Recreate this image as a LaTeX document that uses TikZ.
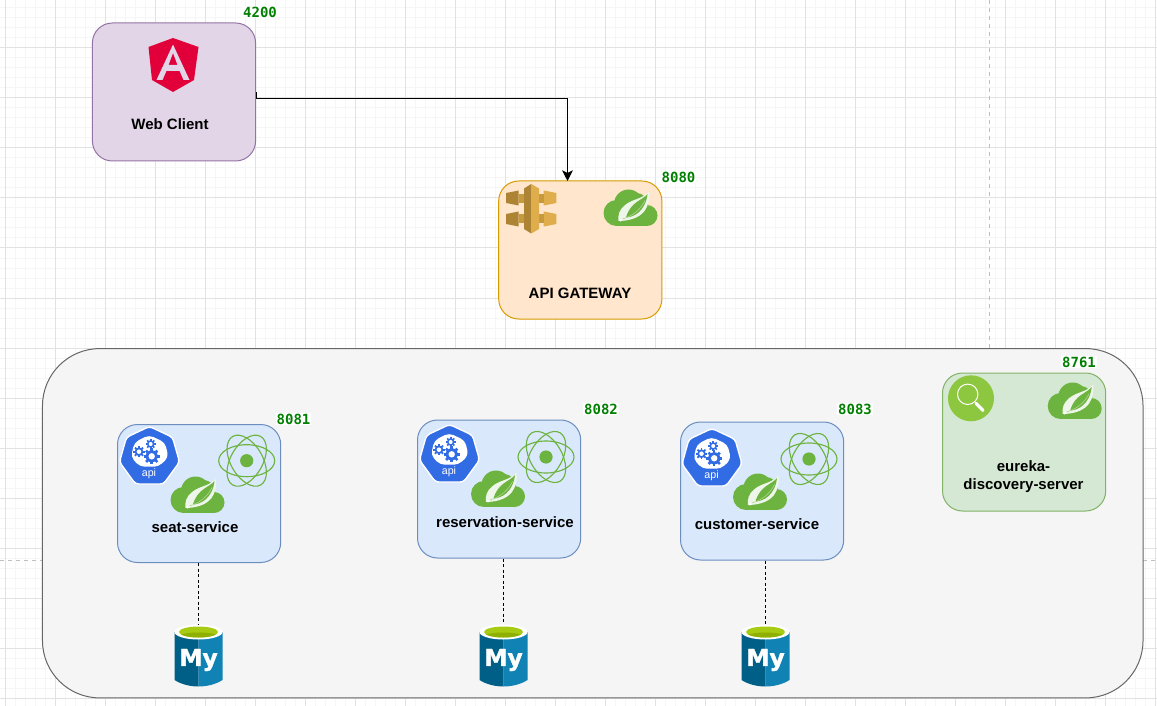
\documentclass[tikz,border=0pt]{standalone}
\usepackage{fontspec}
\usetikzlibrary{arrows.meta}
\setmainfont{Liberation Sans}
\newfontfamily\portfamily{DejaVu Sans Mono}
\newfontfamily\myfamily[BoldFeatures={FakeBold=1.5}]{DejaVu Sans}
\definecolor{gridmajor}{HTML}{E2E2E2}
\definecolor{gridminor}{HTML}{F6F6F6}
\definecolor{springgreen}{HTML}{6DB33F}
\definecolor{k8sblue}{HTML}{326CE5}
\definecolor{portgreen}{HTML}{007F00}
\definecolor{dbdark}{HTML}{005F87}
\definecolor{dblight}{HTML}{1082B4}
\definecolor{dbtop}{HTML}{A6CB12}
\definecolor{dbtopdark}{HTML}{8FB000}
\definecolor{webfill}{HTML}{E1D5E7}
\definecolor{webline}{HTML}{9673A6}
\definecolor{gwfill}{HTML}{FFE6CC}
\definecolor{gwline}{HTML}{D79B00}
\definecolor{svcfill}{HTML}{DAE8FC}
\definecolor{svcline}{HTML}{6C8EBF}
\definecolor{eurfill}{HTML}{D5E8D4}
\definecolor{eurline}{HTML}{82B366}
\definecolor{zonefill}{HTML}{F5F5F5}
\definecolor{zoneline}{HTML}{666666}
\definecolor{angularred}{HTML}{E2003A}
\definecolor{awslight}{HTML}{DFAD4B}
\definecolor{awsmid}{HTML}{C6993C}
\definecolor{awsdark}{HTML}{AC8433}
\definecolor{searchgreen}{HTML}{8DC63F}
\newcommand\cogat[3]{%
  \begin{scope}[shift={(#1,#2)}]
    \fill[k8sblue] (0,0) circle[radius={.76*#3}];
    \foreach \r in {0,45,...,315}
      \draw[k8sblue,line width={#3*.24pt},rotate=\r] (0,0) -- (#3,0);
    \fill[white] (0,0) circle[radius={.4*#3}];
  \end{scope}}
\tikzset{
  gridminorline/.style={draw=gridminor,line width=.75pt},
  gridmajorline/.style={draw=gridmajor,line width=.75pt},
  pageline/.style={draw=lightgray,line width=.75pt,dash pattern=on 3pt off 3pt},
  svcbox/.style={rounded corners=15pt,draw,line width=.75pt,minimum width=122.4pt,minimum height=103.5pt,inner sep=0pt},
  textlabel/.style={font=\fontsize{11.25}{13}\selectfont\bfseries,text=black,align=center,inner sep=0pt},
  port/.style={font=\portfamily\fontsize{10.5}{12}\selectfont\bfseries,text=portgreen,fill=white,inner sep=.5pt},
  dbspot/.style={minimum width=36pt,minimum height=46.5pt,inner sep=0pt},
  dbline/.style={draw=black,line width=.75pt,dash pattern=on 2.25pt off 1.9pt},
  springicon/.pic={
    \fill[springgreen] (-14,5.5) circle[radius=13];
    \fill[springgreen] (-2,-3.5) circle[radius=14.5];
    \fill[springgreen] (6,-3) circle[radius=11.5];
    \fill[springgreen] (16.5,8) circle[radius=10.5];
    \fill[springgreen] (-14,5) rectangle (16.5,18.5);
    \fill[white!88!springgreen] (18.5,-16) .. controls (12,-8) and (2,-9) .. (-6,-2)
       .. controls (-11,2) and (-13,8) .. (-12,13.5)
       .. controls (-4,13.5) and (8,11.5) .. (14,3.5)
       .. controls (18,-2) and (19.5,-9) .. cycle;
    \fill[springgreen] (17,-13.5) .. controls (12,-7) and (0,-6) .. (-4.5,10)
       .. controls (3,9.8) and (15,4) .. cycle;
    \draw[white!45!springgreen,line width=.45pt] (-8,11.5) .. controls (3,8) and (10,2) .. (14.5,-7);
    \fill[white] (-10,12.8) circle[radius=1.4];
  },
  atomicon/.pic={
    \fill[springgreen] (0,0) circle[radius=6.6];
    \foreach \r in {0,60,120}
      \draw[springgreen,line width=.85pt,rotate=\r] (0,0) ellipse[x radius=28,y radius=16];
  },
  k8sicon/.pic={
    \fill[k8sblue,draw=white,line width=1pt,line join=round,rounded corners=2.5pt]
      (0.5,-29.5) -- (23.5,-18.7) -- (30.5,6) -- (14.5,28) -- (-13.5,28) -- (-29.5,6) -- (-22.5,-18.7) -- cycle;
    \fill[white,rounded corners=3.5pt] (0,-21) -- (16,-13.5) -- (19.5,1.3) -- (9.5,10.7) -- (-9,10.7) -- (-18,1.3) -- (-14.7,-13.5) -- cycle;
    \cogat{-10}{-4.3}{5.7}
    \cogat{1.7}{-12}{5}
    \cogat{2.7}{.3}{8}
    \node[font=\fontsize{8}{9}\selectfont,text=white,inner sep=0pt] (apitext) at (0,18) {api};
  },
  dbicon/.pic={
    \fill[dbdark] (-24,-24) -- (-24,24) .. controls (-17,28.5) and (-8,30.5) .. (0,30.5) -- (0,-24) -- cycle;
    \fill[dblight] (24,-24) -- (24,24) .. controls (17,28.5) and (8,30.5) .. (0,30.5) -- (0,-24) -- cycle;
    \fill[white] (0,-24) ellipse[x radius=24,y radius=7.5];
    \fill[dbtop] (0,-24) ellipse[x radius=19.5,y radius=5.5];
    \begin{scope}
      \clip (0,-24) ellipse[x radius=19.5,y radius=5.5];
      \fill[dbtopdark] (0,-19.5) ellipse[x radius=19.5,y radius=4];
    \end{scope}
    \node[font=\myfamily\fontsize{17.5}{20}\selectfont\bfseries,text=white,inner sep=0pt] (mytext) at (0,4) {My};
  },
}
\begin{document}
\begin{tikzpicture}[x=0.75pt,y=-0.75pt]
\useasboundingbox (0,0) rectangle (1157,706);
\fill[white] (0,0) rectangle (1157,706);
% grid
\foreach \i in {5,15,...,1155} \draw[gridminorline] (\i,0) -- (\i,706);
\foreach \i in {8,18,...,698} \draw[gridminorline] (0,\i) -- (1157,\i);
\foreach \i in {5,55,...,1155} \draw[gridmajorline] (\i,0) -- (\i,706);
\foreach \i in {48,98,...,698} \draw[gridmajorline] (0,\i) -- (1157,\i);
\draw[pageline] (989,0) -- (989,350);
\draw[pageline] (0,560) -- (42,560);
\draw[pageline] (1143,560) -- (1157,560);
% zone
\node[rounded corners=43pt,draw=zoneline,fill=zonefill,line width=.75pt,minimum width=825.4pt,minimum height=262pt,inner sep=0pt] (zone) at (592.75,523.25) {};
% boxes
\node[svcbox,draw=webline,fill=webfill] (client) at (174,92) {};
\node[svcbox,draw=gwline,fill=gwfill] (gateway) at (580.3,250) {};
\node[svcbox,draw=svcline,fill=svcfill] (seat) at (199.1,493.5) {};
\node[svcbox,draw=svcline,fill=svcfill] (reservation) at (499.1,489) {};
\node[svcbox,draw=svcline,fill=svcfill] (customer) at (762.1,491) {};
\node[svcbox,draw=eurline,fill=eurfill] (eureka) at (1024.1,442) {};
% labels
\node[textlabel] (clientlabel) at (170,124) {Web Client};
\node[textlabel] (gatewaylabel) at (580,293) {API GATEWAY};
\node[textlabel] (seatlabel) at (195,527) {seat-service};
\node[textlabel] (reservationlabel) at (505,522) {reservation-service};
\node[textlabel] (customerlabel) at (757,524) {customer-service};
\node[textlabel] (eurekalabel) at (1023.5,476.5) {eureka-\\discovery-server};
% ports
\node[port] (p4200) at (260,12) {4200};
\node[port] (p8080) at (678.5,177) {8080};
\node[port] (p8081) at (293.5,419) {8081};
\node[port] (p8082) at (601,409) {8082};
\node[port] (p8083) at (855,409) {8083};
\node[port] (p8761) at (1079,362) {8761};
% angular
\fill[angularred] (173,38) -- (198.5,47) -- (194,80) -- (173,92) -- (152,80) -- (148.5,47) -- cycle;
\fill[webfill,even odd rule] (173,44.5) -- (189.5,80) -- (183.5,80) -- (179.6,71) -- (166.4,71) -- (162.5,80) -- (156.5,80) -- cycle
   (173,53) -- (168.5,65) -- (177.5,65) -- cycle;
% gateway glyph
\begin{scope}[shift={(530.7,208.5)}]
  \fill[awsdark] (-24.7,-15.5) -- (-12,-18) -- (-12,-3) -- (-24.7,-5.5) -- cycle;
  \fill[awsdark] (-24.7,5.5) -- (-12,3) -- (-12,18) -- (-24.7,15.5) -- cycle;
  \fill[awsmid] (-12,-14.5) rectangle (-6.7,-5);
  \fill[awsmid] (-12,6) rectangle (-6.7,15);
  \fill[awslight] (25.7,-15.5) -- (13,-18) -- (13,-3) -- (25.7,-5.5) -- cycle;
  \fill[awslight] (25.7,5.5) -- (13,3) -- (13,18) -- (25.7,15.5) -- cycle;
  \fill[awsmid] (8.3,-14.5) rectangle (13,-5);
  \fill[awsmid] (8.3,6) rectangle (13,15);
  \fill[awsdark] (-6.7,-20) -- (.5,-24.5) -- (.5,25) -- (-6.7,20.5) -- cycle;
  \fill[awslight] (8.3,-20) -- (.5,-24.5) -- (.5,25) -- (8.3,20.5) -- cycle;
\end{scope}
% spring
\pic at (630.5,207.5) {springicon};
\pic at (1074.7,400.5) {springicon};
\pic at (197.5,494.5) {springicon};
\pic at (498,488.5) {springicon};
\pic at (760,491.5) {springicon};
% atoms
\pic at (246.7,460.7) {atomicon};
\pic at (546,457) {atomicon};
\pic at (809,459) {atomicon};
% k8s
\pic at (149,456) {k8sicon};
\pic at (449,454) {k8sicon};
\pic at (711.5,458) {k8sicon};
% search
\fill[searchgreen] (971,398.3) circle[radius=23];
\draw[white,line width=.75pt] (967.7,394.3) circle[radius=10.2];
\draw[white,line width=2.4pt,line cap=round] (976,403.3) -- (983,410.5);
% db
\node[dbspot] (db1) at (198.5,656) {};
\node[dbspot] (db2) at (503.5,656) {};
\node[dbspot] (db3) at (765.5,656) {};
\pic at (db1.center) {dbicon};
\pic at (db2.center) {dbicon};
\pic at (db3.center) {dbicon};
% connectors
\coordinate (gatewayin) at (567.5,181);
\coordinate (elbow) at (567.5,98.5);
\draw[black,line width=.75pt,-{Stealth[length=8pt,width=8pt,inset=2pt]}] (client.east) -- (client.east |- elbow) -- (elbow) -- (gatewayin);
\draw[dbline] (db1.north |- seat.south) -- (db1.north);
\draw[dbline] (db2.north |- reservation.south) -- (db2.north);
\draw[dbline] (db3.north |- customer.south) -- (db3.north);
\end{tikzpicture}
\end{document}
